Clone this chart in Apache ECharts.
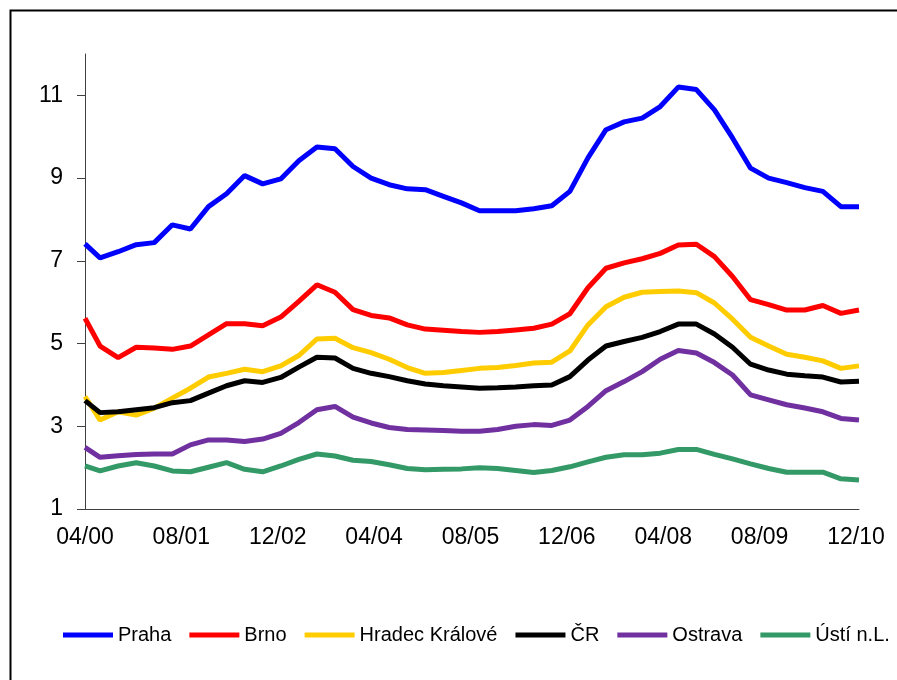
<!DOCTYPE html>
<html>
<head>
<meta charset="utf-8">
<script src="https://cdn.jsdelivr.net/npm/echarts@6/dist/echarts.min.js"></script>
<style>
html,body{margin:0;padding:0;background:#fff;}
#chart{width:897px;height:680px;}
</style>
</head>
<body>
<div id="chart"></div>
<script>
// Observation dates (first point 04/2000, then quarterly)
const dates = [
  '2000-04-01','2000-06-16','2000-09-16','2000-12-16',
  '2001-03-16','2001-06-16','2001-09-16','2001-12-16',
  '2002-03-16','2002-06-16','2002-09-16','2002-12-16',
  '2003-03-16','2003-06-16','2003-09-16','2003-12-16',
  '2004-03-16','2004-06-16','2004-09-16','2004-12-16',
  '2005-03-16','2005-06-16','2005-09-16','2005-12-16',
  '2006-03-16','2006-06-16','2006-09-16','2006-12-16',
  '2007-03-16','2007-06-16','2007-09-16','2007-12-16',
  '2008-03-16','2008-06-16','2008-09-16','2008-12-16',
  '2009-03-16','2009-06-16','2009-09-16','2009-12-16',
  '2010-03-16','2010-06-16','2010-09-16','2010-12-16'
];
const seriesNames = ['Praha','Brno','Hradec Králové','ČR','Ostrava','Ústí n.L.'];
const praha = [7.41,7.07,7.22,7.39,7.44,7.87,7.77,8.31,8.62,9.06,8.86,8.98,9.42,9.75,9.71,
  9.28,9.00,8.84,8.74,8.72,8.56,8.40,8.21,8.21,8.21,8.26,8.33,8.68,
  9.49,10.17,10.36,10.45,10.73,11.20,11.14,10.65,9.97,9.24,9.00,8.89,8.77,8.68,8.31,8.31];
const brno = [5.61,4.94,4.66,4.91,4.89,4.86,4.94,5.21,5.48,5.48,5.43,5.64,6.02,6.42,6.24,
  5.82,5.68,5.62,5.45,5.35,5.32,5.29,5.27,5.29,5.33,5.37,5.47,5.72,
  6.35,6.82,6.95,7.05,7.18,7.38,7.40,7.10,6.62,6.06,5.94,5.81,5.81,5.92,5.73,5.81];
const hradec = [3.72,3.15,3.35,3.27,3.44,3.68,3.92,4.19,4.28,4.38,4.32,4.46,4.71,5.11,5.13,
  4.90,4.78,4.62,4.42,4.28,4.30,4.35,4.40,4.42,4.47,4.53,4.55,4.82,
  5.45,5.89,6.12,6.24,6.26,6.27,6.23,5.98,5.59,5.15,4.94,4.74,4.67,4.58,4.40,4.46];
const cr = [3.62,3.33,3.35,3.40,3.45,3.57,3.62,3.80,3.98,4.10,4.06,4.18,4.43,4.67,4.65,
  4.40,4.28,4.20,4.10,4.02,3.98,3.95,3.92,3.93,3.95,3.98,4.00,4.20,
  4.60,4.94,5.05,5.15,5.29,5.47,5.47,5.23,4.91,4.50,4.36,4.26,4.22,4.19,4.07,4.09];
const ostrava = [2.49,2.25,2.29,2.32,2.33,2.33,2.55,2.67,2.67,2.63,2.69,2.83,3.09,3.40,3.48,
  3.22,3.08,2.97,2.92,2.91,2.90,2.88,2.88,2.92,3.00,3.04,3.02,3.15,
  3.48,3.86,4.08,4.32,4.62,4.83,4.77,4.54,4.24,3.76,3.64,3.52,3.44,3.35,3.19,3.15];
const usti = [2.04,1.92,2.04,2.12,2.04,1.92,1.90,2.01,2.12,1.96,1.90,2.04,2.20,2.33,2.28,
  2.18,2.15,2.07,1.98,1.95,1.96,1.97,2.00,1.98,1.93,1.88,1.93,2.02,
  2.14,2.25,2.31,2.31,2.35,2.44,2.44,2.32,2.21,2.09,1.98,1.89,1.89,1.89,1.73,1.70];
const colors = ['#0000FF','#FF0000','#FFCC00','#000000','#7030A0','#339966'];
const yTickValues = [1,3,5,7,9,11];
const xTickMonths = [0,16,32,48,64,80,96,112,128]; // months after 04/2000

const FONT = '"Liberation Sans", Arial, sans-serif';
function monthsFromStart(d){
  const p = d.split('-').map(Number);
  return (p[0]-2000)*12 + (p[1]-4) + (p[2]-1)/30;
}
function monthLabel(v){
  const m = 4 + Math.round(v);
  const year = 2000 + Math.floor((m-1)/12);
  const mon = ((m-1)%12)+1;
  return String(mon).padStart(2,'0') + '/' + String(year%100).padStart(2,'0');
}
const xs = dates.map(monthsFromStart);
const allValues = [praha,brno,hradec,cr,ostrava,usti];

const chart = echarts.init(document.getElementById('chart'), null, {renderer:'canvas'});
chart.setOption({
  animation:false,
  backgroundColor:'#ffffff',
  color:colors,
  graphic:[{
    type:'rect', left:8, top:8, silent:true,
    shape:{width:960,height:720},
    style:{fill:'none',stroke:'#000',lineWidth:2}
  }],
  grid:{left:85,right:38,top:54,bottom:171},
  legend:{
    left:58, top:620,
    icon:'rect', itemWidth:50, itemHeight:5, itemGap:18,
    textStyle:{fontFamily:FONT,fontSize:20,color:'#000'},
    data:seriesNames
  },
  xAxis:{
    type:'value', min:0, max:128.5, interval:16,
    axisLine:{show:true,lineStyle:{color:'#404040',width:1}},
    axisTick:{show:false},
    splitLine:{show:false},
    axisLabel:{
      customValues:xTickMonths,
      fontFamily:FONT,fontSize:23,color:'#000',margin:17,
      formatter:monthLabel
    }
  },
  yAxis:{
    type:'value', min:1, max:12,
    axisLine:{show:true,lineStyle:{color:'#404040',width:1}},
    axisTick:{show:true,length:8,customValues:yTickValues,lineStyle:{color:'#404040'}},
    splitLine:{show:false},
    axisLabel:{customValues:yTickValues,fontFamily:FONT,fontSize:23,color:'#000',margin:22}
  },
  series: seriesNames.map((n,i)=>({
    name:n, type:'line', symbol:'none', smooth:false,
    lineStyle:{width:5,color:colors[i]},
    itemStyle:{color:colors[i]},
    data: allValues[i].map((v,j)=>[xs[j],v])
  }))
});
</script>
</body>
</html>
